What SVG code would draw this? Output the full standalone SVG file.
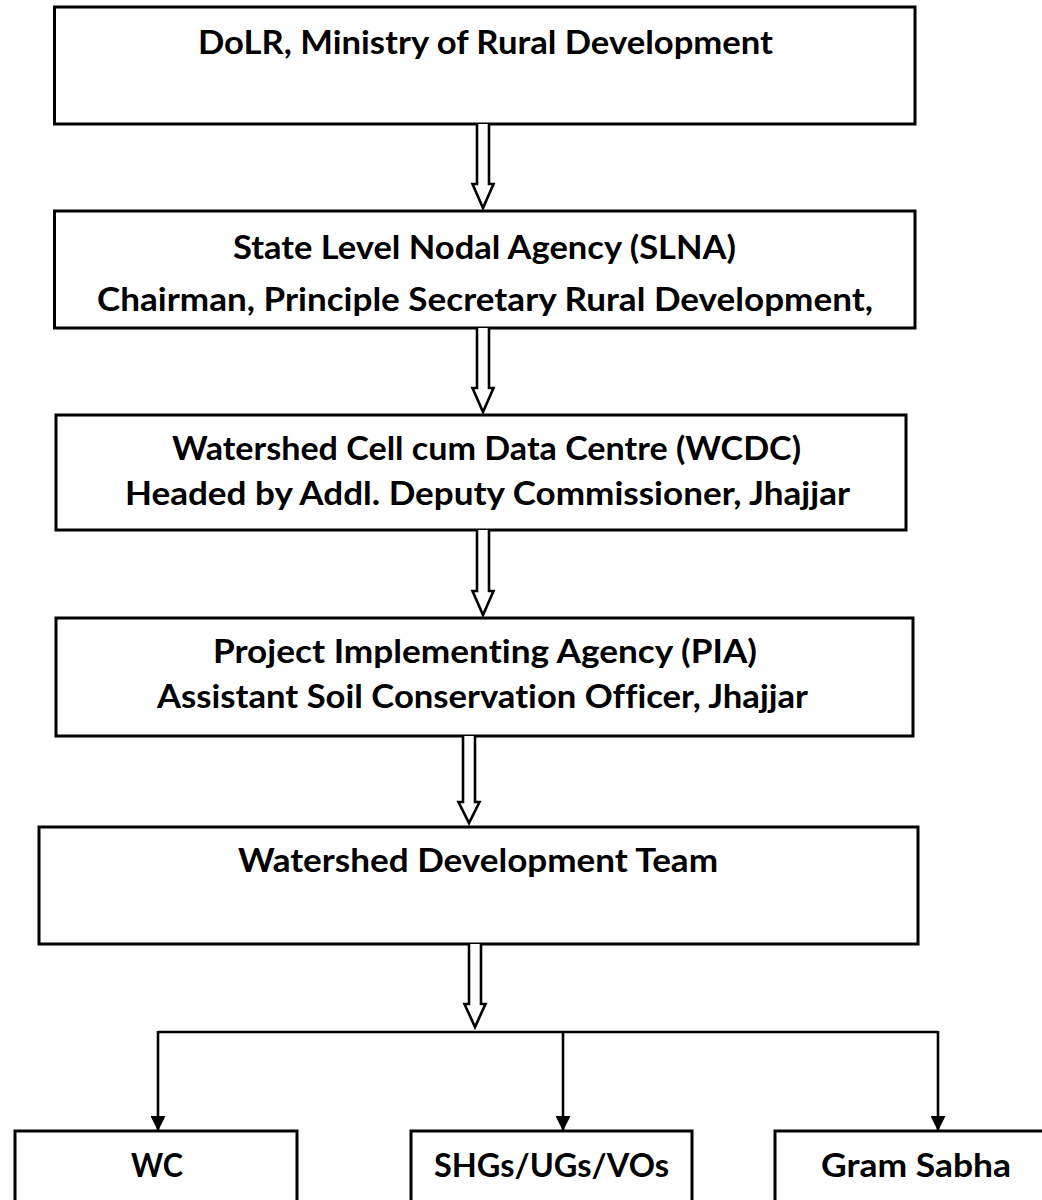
<svg xmlns="http://www.w3.org/2000/svg" width="1042" height="1200" viewBox="0 0 1042 1200">
<style>
.box{fill:#fff;stroke:#000;stroke-width:3}
.t{font-family:Lato,"Open Sans","Liberation Sans",sans-serif;font-weight:700;font-size:32px;fill:#000;text-anchor:middle;font-variant-ligatures:none;font-feature-settings:"liga" 0,"clig" 0}
.hollow{fill:#fff;stroke:#000;stroke-width:2.6;stroke-linejoin:miter}
.line{fill:none;stroke:#000;stroke-width:2.6}
</style>
<defs>
<marker id="ah" markerWidth="15" markerHeight="15" refX="15" refY="7.5" orient="auto" markerUnits="userSpaceOnUse">
<path d="M0,0 L15,7.5 L0,15 Z" fill="#000"/>
</marker>
</defs>
<rect width="1042" height="1200" fill="#fff"/>
<g id="node-dolr">
<rect class="box" x="54.5" y="7" width="860.5" height="117"/>
<text class="t" x="485.5" y="54" textLength="575" lengthAdjust="spacingAndGlyphs">DoLR, Ministry of Rural Development</text>
</g>
<g id="node-slna">
<rect class="box" x="54.5" y="211" width="860.5" height="117"/>
<text class="t" x="484.5" y="259" textLength="503" lengthAdjust="spacingAndGlyphs">State Level Nodal Agency (SLNA)</text>
<text class="t" x="485" y="311" textLength="776" lengthAdjust="spacingAndGlyphs">Chairman, Principle Secretary Rural Development,</text>
</g>
<g id="node-wcdc">
<rect class="box" x="56" y="415" width="850" height="115"/>
<text class="t" x="486.5" y="460" textLength="629" lengthAdjust="spacingAndGlyphs">Watershed Cell cum Data Centre (WCDC)</text>
<text class="t" x="487.5" y="505" textLength="725" lengthAdjust="spacingAndGlyphs">Headed by Addl. Deputy Commissioner, Jhajjar</text>
</g>
<g id="node-pia">
<rect class="box" x="56" y="618" width="857" height="118"/>
<text class="t" x="485" y="663" textLength="544" lengthAdjust="spacingAndGlyphs">Project Implementing Agency (PIA)</text>
<text class="t" x="482.5" y="708" textLength="651" lengthAdjust="spacingAndGlyphs">Assistant Soil Conservation Officer, Jhajjar</text>
</g>
<g id="node-wdt">
<rect class="box" x="39" y="827" width="879" height="117"/>
<text class="t" x="478" y="872" textLength="480" lengthAdjust="spacingAndGlyphs">Watershed Development Team</text>
</g>
<g id="node-wc">
<rect class="box" x="15" y="1131" width="282" height="90"/>
<text class="t" x="157" y="1177" textLength="52" lengthAdjust="spacingAndGlyphs">WC</text>
</g>
<g id="node-shg">
<rect class="box" x="411" y="1131" width="281" height="90"/>
<text class="t" x="551.5" y="1177" textLength="235" lengthAdjust="spacingAndGlyphs">SHGs/UGs/VOs</text>
</g>
<g id="node-gram">
<rect class="box" x="775" y="1131" width="290" height="90"/>
<text class="t" x="916" y="1177" textLength="190" lengthAdjust="spacingAndGlyphs">Gram Sabha</text>
</g>
<g id="connectors">
<path class="hollow" d="M477,124 L477,184 L472.5,184 L483,208 L493.5,184 L489,184 L489,124"/>
<path class="hollow" d="M477,328 L477,388 L472.5,388 L483,412 L493.5,388 L489,388 L489,328"/>
<path class="hollow" d="M477,530 L477,591 L472.5,591 L483,615 L493.5,591 L489,591 L489,530"/>
<path class="hollow" d="M463,736 L463,802 L458.5,802 L469,823 L479.5,802 L475,802 L475,736"/>
<path class="hollow" d="M469,944 L469,1004 L464.5,1004 L475,1027 L485.5,1004 L481,1004 L481,944"/>
<path class="line" d="M158,1032 L938,1032"/>
<path class="line" d="M158,1031 L158,1131" marker-end="url(#ah)"/>
<path class="line" d="M563,1032 L563,1131" marker-end="url(#ah)"/>
<path class="line" d="M938,1031 L938,1131" marker-end="url(#ah)"/>
</g>
</svg>
